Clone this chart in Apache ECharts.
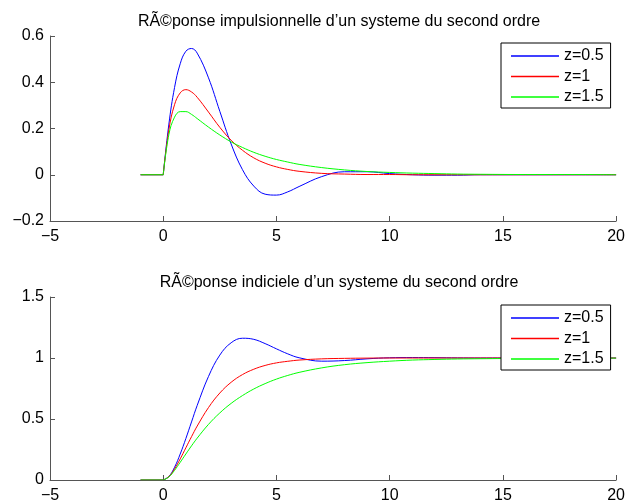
<!DOCTYPE html>
<html>
<head>
<meta charset="utf-8">
<script src="https://cdn.jsdelivr.net/npm/echarts@6/dist/echarts.min.js"></script>
<style>
  html, body { margin: 0; padding: 0; background: #fff; }
  #main { width: 628px; height: 504px; }
</style>
</head>
<body>
<div id="main"></div>
<script>
// temps (s) : avant 0 la reponse est nulle
var tAvant = [-1, 0];
var t = [0, 0.25, 0.5, 0.75, 1, 1.25, 1.5, 2, 2.5, 3, 3.5, 4, 4.5, 5, 5.5, 6, 7, 8, 9, 10, 11, 12, 13, 14, 16, 18, 20];

// reponse impulsionnelle
var imp05 = [0, 0.219, 0.377, 0.480, 0.534, 0.546, 0.526, 0.419, 0.274, 0.133, 0.022, -0.049, -0.084, -0.088, -0.074, -0.051, -0.008, 0.013, 0.013, 0.005, 0, -0.002, -0.002, 0, 0, 0, 0];
var imp1 = [0, 0.195, 0.303, 0.354, 0.368, 0.358, 0.335, 0.271, 0.205, 0.149, 0.106, 0.073, 0.050, 0.034, 0.023, 0.015, 0.006, 0.003, 0.001, 0.001, 0, 0, 0, 0, 0, 0, 0];
var imp15 = [0, 0.174, 0.249, 0.273, 0.273, 0.261, 0.243, 0.206, 0.172, 0.142, 0.118, 0.097, 0.080, 0.066, 0.055, 0.045, 0.031, 0.021, 0.014, 0.010, 0.007, 0.005, 0.003, 0.002, 0.001, 0.001, 0];

// reponse indicielle
var ind05 = [0, 0.029, 0.104, 0.213, 0.340, 0.476, 0.611, 0.849, 1.024, 1.125, 1.162, 1.153, 1.118, 1.075, 1.034, 1.002, 0.974, 0.979, 0.993, 1.002, 1.004, 1.003, 1.001, 1.0, 1.0, 1.0, 1.0];
var ind1 = [0, 0.027, 0.090, 0.173, 0.264, 0.355, 0.442, 0.594, 0.713, 0.801, 0.864, 0.908, 0.939, 0.960, 0.973, 0.983, 0.993, 0.997, 0.999, 1.0, 1.0, 1.0, 1.0, 1.0, 1.0, 1.0, 1.0];
var ind15 = [0, 0.025, 0.079, 0.145, 0.213, 0.280, 0.343, 0.456, 0.550, 0.628, 0.692, 0.746, 0.790, 0.827, 0.857, 0.882, 0.919, 0.945, 0.962, 0.974, 0.983, 0.988, 0.992, 0.994, 0.997, 0.999, 0.999];

var noms = ['z=0.5', 'z=1', 'z=1.5'];
var couleurs = ['#0000ff', '#ff0000', '#00ff00'];

var xTicks = [-5, 0, 5, 10, 15, 20];
var yTicksHaut = [-0.2, 0, 0.2, 0.4, 0.6];
var yTicksBas = [0, 0.5, 1, 1.5];

var police = 'Liberation Sans, Arial, Helvetica, sans-serif';

function paires(ts, vals) {
    return ts.map(function (x, i) { return [x, vals[i]]; });
}

function fmt(v) {
    var s = String(Math.round(v * 100) / 100);
    return s.replace('-', '\u2212');
}

function axeX(idx) {
    return {
        type: 'value', gridIndex: idx,
        min: xTicks[0], max: xTicks[xTicks.length - 1], interval: 5,
        axisLine: { onZero: false, lineStyle: { color: '#555', width: 1 } },
        axisTick: { inside: true, length: 5, lineStyle: { color: '#555' } },
        axisLabel: { color: '#000', fontSize: 16, fontFamily: police, margin: 8, formatter: fmt },
        splitLine: { show: false }
    };
}

function axeY(idx, ticks) {
    return {
        type: 'value', gridIndex: idx,
        min: ticks[0], max: ticks[ticks.length - 1], interval: ticks[1] - ticks[0],
        axisLine: { show: true, onZero: false, lineStyle: { color: '#555', width: 1 } },
        axisTick: { show: true, inside: true, length: 5, lineStyle: { color: '#555' } },
        axisLabel: { color: '#000', fontSize: 16, fontFamily: police, margin: 6, formatter: fmt },
        splitLine: { show: false }
    };
}

var donnees = [[imp05, imp1, imp15], [ind05, ind1, ind15]];
var series = [];
donnees.forEach(function (groupe, g) {
    groupe.forEach(function (vals, k) {
        var base = {
            name: noms[k], type: 'line', xAxisIndex: g, yAxisIndex: g,
            showSymbol: false, symbol: 'none',
            lineStyle: { color: couleurs[k], width: 1 },
            itemStyle: { color: couleurs[k] },
            animation: false, z: 2 + k
        };
        // partie nulle avant t=0
        series.push(Object.assign({}, base, { data: paires(tAvant, [0, 0]), smooth: false }));
        series.push(Object.assign({}, base, { data: paires(t, vals), smooth: 0.4 }));
    });
});

function legende(top) {
    return {
        orient: 'vertical', left: 501, top: top, z: 10,
        data: noms.map(function (n) { return { name: n }; }),
        icon: 'rect', itemWidth: 48, itemHeight: 1.5, itemGap: 4.5,
        backgroundColor: '#fff', borderColor: '#000', borderWidth: 1,
        padding: [5, 7, 3, 10],
        textStyle: { color: '#000', fontSize: 16, fontFamily: police },
        selectedMode: false
    };
}

var myChart = echarts.init(document.getElementById('main'), null, { renderer: 'canvas' });

var option = {
    backgroundColor: '#fff',
    animation: false,
    title: [
        { text: 'RÃ©ponse impulsionnelle d\u2019un systeme du second ordre', left: 334, top: 9, textAlign: 'center',
          textStyle: { fontSize: 16, fontWeight: 'normal', color: '#000', fontFamily: police } },
        { text: 'RÃ©ponse indiciele d\u2019un systeme du second ordre', left: 334, top: 270, textAlign: 'center',
          textStyle: { fontSize: 16, fontWeight: 'normal', color: '#000', fontFamily: police } }
    ],
    legend: [legende(43), legende(305)],
    grid: [
        { left: 50, right: 9, top: 36, height: 185 },
        { left: 50, right: 9, top: 297, height: 185 }
    ],
    xAxis: [axeX(0), axeX(1)],
    yAxis: [axeY(0, yTicksHaut), axeY(1, yTicksBas)],
    series: series
};

myChart.setOption(option);
</script>
</body>
</html>
